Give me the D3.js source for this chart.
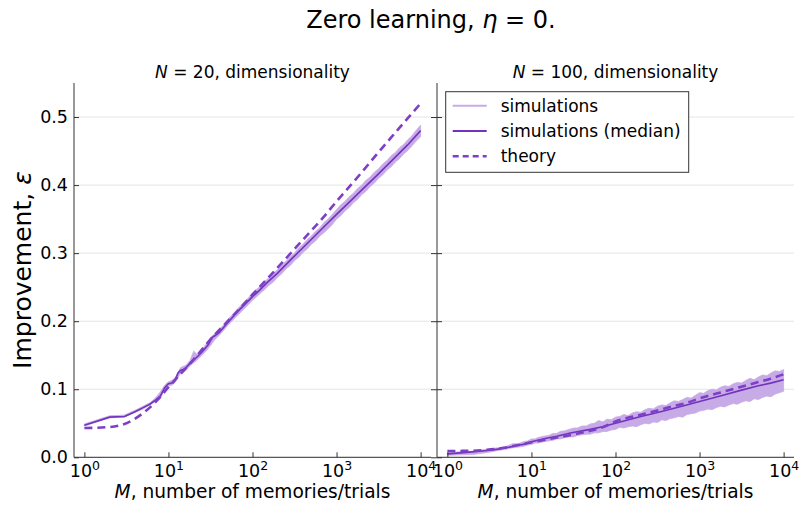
<!DOCTYPE html>
<html>
<head>
<meta charset="utf-8">
<script src="https://cdn.jsdelivr.net/npm/d3@7"></script>
<style>
  body { margin: 0; background: #fff; }
  svg { display: block; }
  text { font-family: "DejaVu Sans", sans-serif; fill: #000; }
</style>
</head>
<body>
<svg id="chart" width="799" height="506"></svg>
<script>
// ---- data ----------------------------------------------------------------
const dims = [20, 100];
const decadeTicks = [1, 10, 100, 1000, 10000];
const yTicks = [0, 0.1, 0.2, 0.3, 0.4, 0.5];

// grid of M on which the individual simulation runs are summarised (min / max envelope)
const bandM = [1,2,3,4,5,6,7,8,9,10,11,12,14,16,18,20,22,25,28,32,35,40,45,50,56,63,71,79,89,
  100,112,126,141,158,178,200,224,251,282,316,355,398,447,501,562,631,708,794,891,
  1000,1122,1259,1413,1585,1778,1995,2239,2512,2818,3162,3548,3981,4467,5012,5623,6310,7079,7943,8913,
  10000];

const simLo20 = [.046,.058,.059,.066,.071,.077,.082,.086,.099,.105,.106,.110,
  .124,.127,.134,.139,.143,.150,.156,.165,.172,.179,.186,.193,.199,.206,.212,.218,.224,
  .231,.236,.242,.247,.253,.258,.265,.270,.277,.282,.289,.294,.301,.306,.313,.318,.325,.330,.336,.342,
  .350,.355,.362,.367,.374,.379,.386,.391,.398,.403,.410,.415,.422,.427,.434,.439,.446,.451,.458,.465,
  .471];
const simHi20 = [.049,.061,.062,.069,.075,.080,.087,.096,.106,.111,.113,.117,
  .132,.135,.142,.156,.151,.158,.166,.177,.181,.188,.194,.202,.208,.215,.222,.228,.234,
  .242,.247,.252,.259,.264,.271,.276,.283,.288,.295,.300,.308,.313,.320,.325,.332,.337,.345,.350,.357,
  .364,.371,.376,.383,.388,.395,.400,.407,.412,.419,.424,.431,.436,.443,.448,.455,.460,.467,.473,.481,
  .488];

const simLo100 = [.003,.004,.007,.010,.012,.014,.015,.016,.018,.019,.021,.021,
  .023,.024,.025,.027,.027,.029,.030,.030,.032,.033,.034,.034,.036,.036,.038,.038,.040,
  .041,.044,.043,.045,.046,.045,.048,.050,.049,.052,.051,.055,.054,.057,.058,.060,.059,.063,.064,.065,
  .068,.069,.071,.070,.073,.075,.074,.077,.079,.078,.081,.083,.082,.086,.085,.088,.090,.089,.093,.095,
  .097];
const simHi100 = [.007,.009,.012,.014,.016,.020,.020,.023,.024,.027,.027,.029,
  .031,.032,.035,.035,.038,.039,.041,.043,.043,.046,.046,.049,.050,.054,.052,.056,.055,
  .059,.060,.063,.061,.065,.067,.066,.070,.072,.071,.075,.077,.076,.080,.083,.082,.085,.088,.087,.091,
  .095,.094,.098,.100,.099,.103,.105,.104,.108,.110,.109,.113,.116,.114,.118,.121,.120,.124,.127,.126,
  .129];

// median over simulation runs
const medM20 = [1,2,3,4,5,6,7,8,9,10,11,12,13,14,15,16,18,20,23,26,30,33,36,40,
  50,60,70,80,100,120,150,200,300,500,700,1000,1500,2000,3000,5000,7000,10000];
const med20 = [.047,.059,.060,.067,.073,.078,.084,.090,.102,.108,.109,.113,.124,.128,.129,.131,
  .138,.143,.150,.157,.166,.176,.179,.183,
  .197,.208,.217,.224,.236,.245,.257,.271,.293,.320,.338,
  .357,.378,.393,.414,.441,.459,.480];
const medM100 = [1,2,3,4,5,6,7,8,9,10,15,20,30,50,70,100,200,300,500,700,1000,2000,3000,5000,7000,10000];
const med100 = [.005,.008,.010,.012,.014,.016,.018,.019,.021,.023,.028,.031,.036,.041,.045,
  .050,.060,.065,.072,.077,.082,.092,.098,.105,.109,.114];

// theoretical prediction
const theoryM = [1,2,3,5,7,10,20,30,50,70,100,200,300,500,700,1000,2000,3000,5000,7000,10000];
const theory20 = [.043,.0445,.049,.065,.081,.103,.144,.170,.199,.218,.239,.279,.303,.333,.353,
  .376,.419,.445,.477,.498,.520];
const theory100 = [.0093,.0095,.011,.0145,.018,.022,.029,.033,.039,.044,.0525,.0625,.068,.0755,.080,
  .0865,.097,.103,.1105,.1155,.122];

const legendLabels = ["simulations", "simulations (median)", "theory"];

// ---- layout & style --------------------------------------------------------
const plotTop = 83, plotBottom = 457.3;
const panels = [
  { x0: 74, x1: 431, lo: simLo20, hi: simHi20, medM: medM20, med: med20, th: theory20, labels: true },
  { x0: 437, x1: 794, lo: simLo100, hi: simHi100, medM: medM100, med: med100, th: theory100, labels: false }
];
const cBand = "#c6abe6", cMed = "#7333bd", cTheory = "#7d3fc8";
const axisColor = "#333", gridColor = "#e4e4e4";
const pad = 0.1235;
const tickFont = 17.5;

const svg = d3.select("#chart");
const y = d3.scaleLinear().domain([0, 0.55]).range([plotBottom, plotTop]);

// title
const title = svg.append("text").attr("x", 431).attr("y", 27.5)
  .attr("text-anchor", "middle").attr("font-size", 24);
title.append("tspan").text("Zero learning, ");
title.append("tspan").attr("font-style", "italic").text("η");
title.append("tspan").text(" = 0.");

panels.forEach((p, i) => {
  const x = d3.scaleLog().domain([Math.pow(10, -pad), Math.pow(10, 4 + pad)]).range([p.x0, p.x1]);
  const g = svg.append("g");
  const cx = (p.x0 + p.x1) / 2;

  // subplot title
  const st = g.append("text").attr("x", cx).attr("y", 77.5).attr("text-anchor", "middle").attr("font-size", 17);
  st.append("tspan").attr("font-style", "italic").text("N");
  st.append("tspan").text(" = " + dims[i] + ", dimensionality");

  // horizontal grid
  g.append("g").selectAll("line").data(yTicks).join("line")
    .attr("x1", p.x0).attr("x2", p.x1)
    .attr("y1", d => y(d)).attr("y2", d => y(d))
    .attr("stroke", gridColor).attr("stroke-width", 1);

  // simulation envelope
  const band = bandM.map((m, k) => ({ m, lo: p.lo[k], hi: p.hi[k] }));
  g.append("path").datum(band)
    .attr("fill", cBand).attr("stroke", cBand).attr("stroke-width", 0.8)
    .attr("d", d3.area().x(d => x(d.m)).y0(d => y(d.lo)).y1(d => y(d.hi)));

  // median
  g.append("path").datum(p.medM.map((m, k) => [m, p.med[k]]))
    .attr("fill", "none").attr("stroke", cMed).attr("stroke-width", 1.6)
    .attr("d", d3.line().x(d => x(d[0])).y(d => y(d[1])));

  // theory
  g.append("path").datum(theoryM.map((m, k) => [m, p.th[k]]))
    .attr("fill", "none").attr("stroke", cTheory).attr("stroke-width", 2.6)
    .attr("stroke-dasharray", "8,5")
    .attr("d", d3.line().curve(d3.curveMonotoneX).x(d => x(d[0])).y(d => y(d[1])));

  // x axis
  const xa = g.append("g").attr("transform", `translate(0,${plotBottom})`)
    .call(d3.axisBottom(x).tickValues(decadeTicks).tickSizeInner(-5).tickSizeOuter(0).tickPadding(6)
      .tickFormat(d => ""));
  xa.select(".domain").attr("stroke", axisColor).attr("d", `M${p.x0},0H${p.x1}`);
  xa.selectAll(".tick line").attr("stroke", axisColor);
  xa.selectAll(".tick text").each(function(d) {
    const t = d3.select(this).attr("y", 20).attr("dy", null).attr("font-size", tickFont).attr("fill", "#000");
    t.append("tspan").text("10");
    t.append("tspan").attr("font-size", 12.5).attr("dy", -7).text(Math.round(Math.log10(d)));
  });

  // x label
  const xl = g.append("text").attr("x", cx).attr("y", 497.5).attr("text-anchor", "middle").attr("font-size", 18.6);
  xl.append("tspan").attr("font-style", "italic").text("M");
  xl.append("tspan").text(", number of memories/trials");

  // y axis
  const ya = g.append("g").attr("transform", `translate(${p.x0},0)`)
    .call(d3.axisLeft(y).tickValues(yTicks).tickSizeInner(-5).tickSizeOuter(0).tickPadding(6)
      .tickFormat(p.labels ? d3.format(".1f") : () => ""));
  ya.select(".domain").attr("stroke", axisColor).attr("d", `M0,${plotTop}V${plotBottom}`);
  ya.selectAll(".tick line").attr("stroke", axisColor);
  ya.selectAll(".tick text").attr("font-size", tickFont).attr("fill", "#000");
  if (!p.labels) {
    ya.selectAll(".tick").append("line").attr("x1", -6).attr("x2", 0).attr("stroke", axisColor);
  }
});

// y label
const yl = svg.append("text").attr("transform", `translate(31,${(plotTop + plotBottom) / 2}) rotate(-90)`)
  .attr("text-anchor", "middle").attr("font-size", 25);
yl.append("tspan").text("Improvement, ");
yl.append("tspan").attr("font-style", "italic").text("ε");

// legend
const lg = svg.append("g");
lg.append("rect").attr("x", 445.7).attr("y", 91.7).attr("width", 243).attr("height", 80.6)
  .attr("fill", "#fff").attr("stroke", axisColor).attr("stroke-width", 1);
const legStyles = [
  { c: cBand, w: 2, dash: null },
  { c: cMed, w: 2, dash: null },
  { c: cTheory, w: 2.4, dash: "6,4" }
];
legendLabels.forEach((lab, k) => {
  const ly = 105.7 + k * 25.3;
  lg.append("line").attr("x1", 452.7).attr("x2", 486.7).attr("y1", ly).attr("y2", ly)
    .attr("stroke", legStyles[k].c).attr("stroke-width", legStyles[k].w)
    .attr("stroke-dasharray", legStyles[k].dash);
  lg.append("text").attr("x", 500.7).attr("y", ly).attr("dy", "0.35em").attr("font-size", 17).text(lab);
});
</script>
</body>
</html>
